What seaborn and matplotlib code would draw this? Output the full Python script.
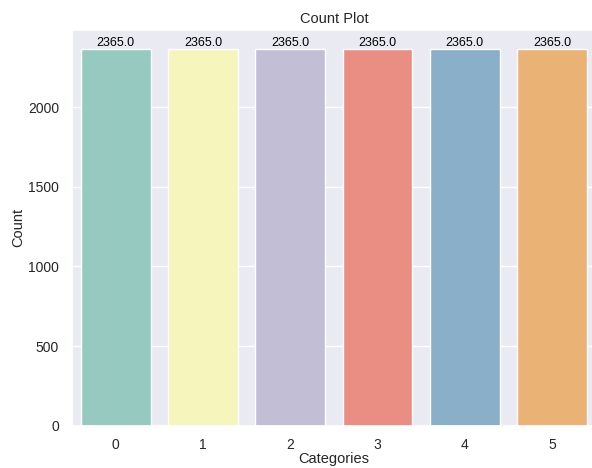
import matplotlib
matplotlib.use("Agg")
import matplotlib.pyplot as plt
import pandas as pd
import seaborn as sns

# data
categories = ["0", "1", "2", "3", "4", "5"]
counts = [2365, 2365, 2365, 2365, 2365, 2365]

df = pd.DataFrame({"Categories": categories, "Count": counts})

sns.set_theme(style="darkgrid")
plt.rcParams["font.family"] = ["Liberation Sans", "DejaVu Sans"]

fig, ax = plt.subplots(figsize=(5.92, 4.68), dpi=100)
fig.subplots_adjust(left=0.122, right=1.006, top=0.936, bottom=0.09)

sns.barplot(data=df, x="Categories", y="Count", hue="Categories",
            palette="Set3", legend=False, ax=ax)

for p in ax.patches:
    h = p.get_height()
    ax.annotate(f"{float(h)}", (p.get_x() + p.get_width() / 2, h),
                ha="center", va="bottom", fontsize=9, color="black")

ax.set_title("Count Plot", fontsize=10.5, pad=5)
ax.set_xlabel("Categories", fontsize=10.5, labelpad=0.5)
ax.set_ylabel("Count", fontsize=10.5, labelpad=2)
ax.tick_params(labelsize=10)
ax.tick_params(axis="x", pad=2.5)

fig.savefig("out.png", dpi=100)
